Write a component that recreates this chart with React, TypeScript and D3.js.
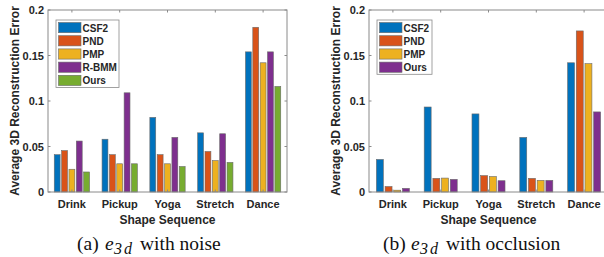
import * as d3 from 'd3'

const categories = ['Drink', 'Pickup', 'Yoga', 'Stretch', 'Dance']
const yTicks = [0, 0.05, 0.1, 0.15, 0.2]

// (a) noise
const noiseSeries = ['CSF2', 'PND', 'PMP', 'R-BMM', 'Ours']
const noiseCSF2 = [0.041, 0.058, 0.082, 0.065, 0.154]
const noisePND = [0.0455, 0.041, 0.041, 0.0445, 0.181]
const noisePMP = [0.025, 0.031, 0.031, 0.0345, 0.142]
const noiseRBMM = [0.056, 0.109, 0.060, 0.064, 0.154]
const noiseOurs = [0.022, 0.031, 0.028, 0.0325, 0.116]

// (b) occlusion
const occSeries = ['CSF2', 'PND', 'PMP', 'Ours']
const occCSF2 = [0.0358, 0.0934, 0.0858, 0.060, 0.142]
const occPND = [0.006, 0.015, 0.018, 0.015, 0.177]
const occPMP = [0.002, 0.0153, 0.017, 0.0128, 0.141]
const occOurs = [0.004, 0.0139, 0.0124, 0.0128, 0.088]

const colors = ['#0072BD', '#D95319', '#EDB120', '#7E2F8E', '#77AC30']
const font = '"Liberation Sans", Arial, sans-serif'
const serif = '"Liberation Serif", "Times New Roman", serif'
const txt = '#262626'
const axisColor = '#8a8a8a'

type PanelProps = {
  x0: number
  series: string[]
  values: number[][]
  letter: string
  rest: string
  legendW: number
  capX: number
}

const Panel = ({ x0, series, values, letter, rest, legendW, capX }: PanelProps) => {
  const top = 10
  const bottom = 192
  const w = 239
  const x = d3.scaleBand<string>().domain(categories).range([x0, x0 + w])
  const y = d3.scaleLinear().domain([0, 0.2]).range([bottom, top])
  const n = series.length
  const gw = Math.min(0.8, n / (n + 1.5)) * x.bandwidth()
  const inner = d3.scaleBand<string>().domain(series).range([-gw / 2, gw / 2])
    .paddingInner(0.2).paddingOuter(0.1)
  const tl = 2.5
  const cx = x0 + w / 2
  const legX = x0 + 8
  const legY = top + 10
  const rowH = 13.2
  return (
    <g>
      {series.map((s, si) =>
        categories.map((c, ci) => (
          <rect key={s + c}
            x={x(c)! + x.bandwidth() / 2 + inner(s)!}
            y={y(values[si][ci])}
            width={inner.bandwidth()}
            height={y(0) - y(values[si][ci])}
            fill={colors[si]} stroke="#6a6a6a" strokeWidth={0.6} />
        )))}
      <rect x={x0} y={top} width={w} height={bottom - top} fill="none" stroke={axisColor} strokeWidth={1} />
      {yTicks.map(t => (
        <g key={t}>
          <line x1={x0} x2={x0 + tl} y1={y(t)} y2={y(t)} stroke={axisColor} />
          <line x1={x0 + w} x2={x0 + w - tl} y1={y(t)} y2={y(t)} stroke={axisColor} />
          <text x={x0 - 4} y={y(t) + 4} textAnchor="end" fontFamily={font} fontWeight="bold" fontSize={11} fill={txt}>{t}</text>
        </g>
      ))}
      {categories.map(c => {
        const px = x(c)! + x.bandwidth() / 2
        return (
          <g key={c}>
            <line x1={px} x2={px} y1={bottom} y2={bottom - tl} stroke={axisColor} />
            <line x1={px} x2={px} y1={top} y2={top + tl} stroke={axisColor} />
            <text x={px} y={208} textAnchor="middle" fontFamily={font} fontWeight="bold" fontSize={11} fill={txt}>{c}</text>
          </g>
        )
      })}
      <text x={cx} y={224} textAnchor="middle" fontFamily={font} fontWeight="bold" fontSize={12} fill={txt}>Shape Sequence</text>
      <text transform={`translate(${x0 - 28.8},${(top + bottom) / 2}) rotate(-90)`} textAnchor="middle"
        fontFamily={font} fontWeight="bold" fontSize={12} fill={txt}>Average 3D Reconstruction Error</text>
      <rect x={legX} y={legY} width={legendW} height={rowH * n + 1.5} fill="#fff" stroke={axisColor} strokeWidth={0.8} />
      {series.map((s, si) => (
        <g key={s}>
          <rect x={legX + 2.5} y={legY + 2.5 + si * rowH} width={22.5} height={rowH - 3} fill={colors[si]} stroke="#6a6a6a" strokeWidth={0.6} />
          <text x={legX + 26.5} y={legY + 4 + si * rowH + 7.5} fontFamily={font} fontWeight="bold" fontSize={10} fill={txt}>{s}</text>
        </g>
      ))}
      <g fontFamily={serif} fill="#111">
        <text x={capX} y={250} fontSize={19.5}>{`(${letter})`}</text>
        <text x={capX + 28} y={250} fontSize={19.5} fontStyle="italic">e</text>
        <text x={capX + 37} y={253.5} fontSize={16} fontStyle="italic" letterSpacing={2}>3d</text>
        <text x={capX + 63} y={250} fontSize={19.5}>{`with ${rest}`}</text>
      </g>
    </g>
  )
}

const App = () => (
  <>
    <style>{'body{margin:0}'}</style>
    <svg width={604} height={257} style={{ display: 'block', background: '#fff' }}>
      <Panel x0={48} series={noiseSeries}
        values={[noiseCSF2, noisePND, noisePMP, noiseRBMM, noiseOurs]}
        letter="a" rest="noise" legendW={63} capX={77} />
      <Panel x0={369} series={occSeries}
        values={[occCSF2, occPND, occPMP, occOurs]}
        letter="b" rest="occlusion" legendW={55} capX={383} />
    </svg>
  </>
)

export default App
